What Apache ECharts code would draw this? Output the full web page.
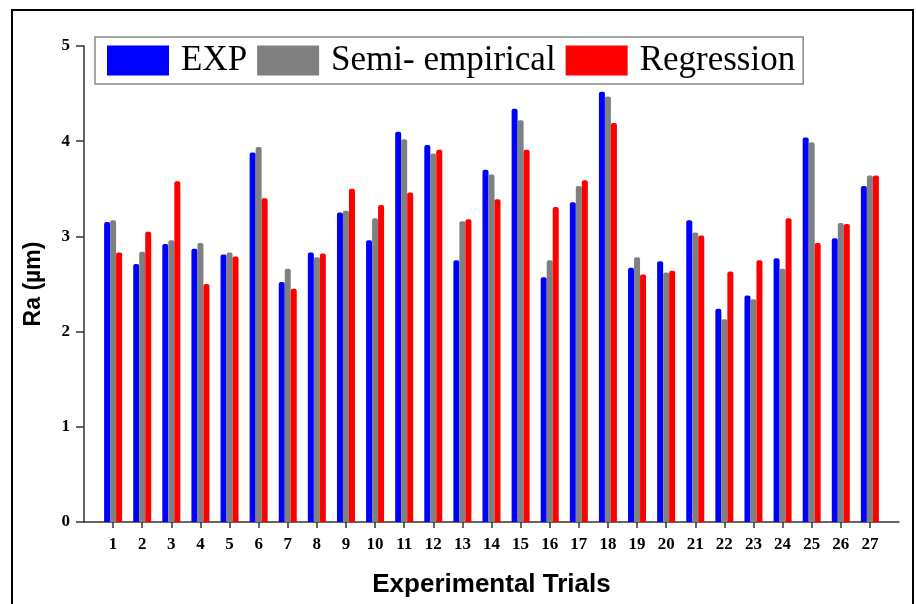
<!DOCTYPE html>
<html>
<head>
<meta charset="utf-8">
<script src="https://cdn.jsdelivr.net/npm/echarts@6/dist/echarts.min.js"></script>
<style>
  html, body { margin: 0; padding: 0; background: #fff; }
  #chart { width: 916px; height: 604px; }
</style>
</head>
<body>
<div id="chart"></div>
<script>
// Trial numbers
const trials = ['1','2','3','4','5','6','7','8','9','10','11','12','13','14','15','16','17','18','19','20','21','22','23','24','25','26','27'];

// Ra values (µm)
const expValues = [3.15, 2.71, 2.92, 2.87, 2.81, 3.88, 2.52, 2.83, 3.25, 2.96, 4.10, 3.96, 2.75, 3.70, 4.34, 2.57, 3.36, 4.52, 2.67, 2.74, 3.17, 2.24, 2.38, 2.77, 4.04, 2.98, 3.53];
const semiValues = [3.17, 2.84, 2.96, 2.93, 2.83, 3.94, 2.66, 2.78, 3.27, 3.19, 4.02, 3.87, 3.16, 3.65, 4.22, 2.75, 3.53, 4.47, 2.78, 2.62, 3.04, 2.13, 2.34, 2.66, 3.99, 3.14, 3.64];
const regValues = [2.83, 3.05, 3.58, 2.50, 2.79, 3.40, 2.45, 2.82, 3.50, 3.33, 3.46, 3.91, 3.18, 3.39, 3.91, 3.31, 3.59, 4.19, 2.60, 2.64, 3.01, 2.63, 2.75, 3.19, 2.93, 3.13, 3.64];

const yTicks = [0, 1, 2, 3, 4, 5];

// empty slot on each end so the first/last bars sit away from the axes
const pad = arr => [null, ...arr, null];
const categories = ['', ...trials, ''];

const chart = echarts.init(document.getElementById('chart'));

const serif = '"Liberation Serif", "Times New Roman", serif';
const sans = '"Liberation Sans", Arial, sans-serif';

function barSeries(name, data, color) {
  return {
    name: name,
    type: 'bar',
    data: pad(data),
    barWidth: 6,
    barGap: '0%',
    itemStyle: { color: color, borderRadius: [2, 2, 0, 0] }
  };
}

chart.setOption({
  animation: false,
  graphic: [{
    type: 'rect',
    shape: { x: 12, y: 10, width: 901, height: 620 },
    style: { fill: 'none', stroke: '#000', lineWidth: 2 },
    silent: true
  }],
  legend: {
    left: 95,
    top: 37,
    itemWidth: 62,
    itemHeight: 30,
    itemGap: 10,
    padding: [6, 8, 6, 12],
    borderColor: '#888',
    borderWidth: 1.5,
    icon: 'rect',
    textStyle: {
      fontFamily: serif,
      fontSize: 35,
      lineHeight: 32,
      color: '#000',
      padding: [0, 0, 0, 7]
    },
    data: ['EXP', 'Semi- empirical', 'Regression']
  },
  grid: { left: 84, right: 17, top: 46, bottom: 82 },
  xAxis: {
    type: 'category',
    data: categories,
    boundaryGap: false,
    name: 'Experimental Trials',
    nameLocation: 'middle',
    nameGap: 50,
    nameTextStyle: { fontFamily: sans, fontWeight: 'bold', fontSize: 26, color: '#000' },
    axisLine: { lineStyle: { color: '#333', width: 1.5 } },
    axisTick: {
      alignWithLabel: true,
      length: 6,
      interval: idx => idx > 0 && idx < categories.length - 1,
      lineStyle: { color: '#333', width: 1.5 }
    },
    axisLabel: {
      interval: 0,
      margin: 14,
      fontFamily: serif,
      fontWeight: 'bold',
      fontSize: 17,
      color: '#000'
    },
    splitLine: { show: false }
  },
  yAxis: {
    type: 'value',
    min: 0,
    max: yTicks[yTicks.length - 1],
    interval: 1,
    name: 'Ra (µm)',
    nameLocation: 'middle',
    nameGap: 39,
    nameTextStyle: { fontFamily: sans, fontWeight: 'bold', fontSize: 23, color: '#000' },
    axisLine: { show: true, lineStyle: { color: '#333', width: 1.5 } },
    axisTick: { show: true, length: 8, lineStyle: { color: '#333', width: 1.5 } },
    axisLabel: {
      margin: 14,
      fontFamily: serif,
      fontWeight: 'bold',
      fontSize: 17,
      color: '#000'
    },
    splitLine: { show: false }
  },
  series: [
    barSeries('EXP', expValues, '#0000ff'),
    barSeries('Semi- empirical', semiValues, '#808080'),
    barSeries('Regression', regValues, '#ff0000')
  ]
});
</script>
</body>
</html>
